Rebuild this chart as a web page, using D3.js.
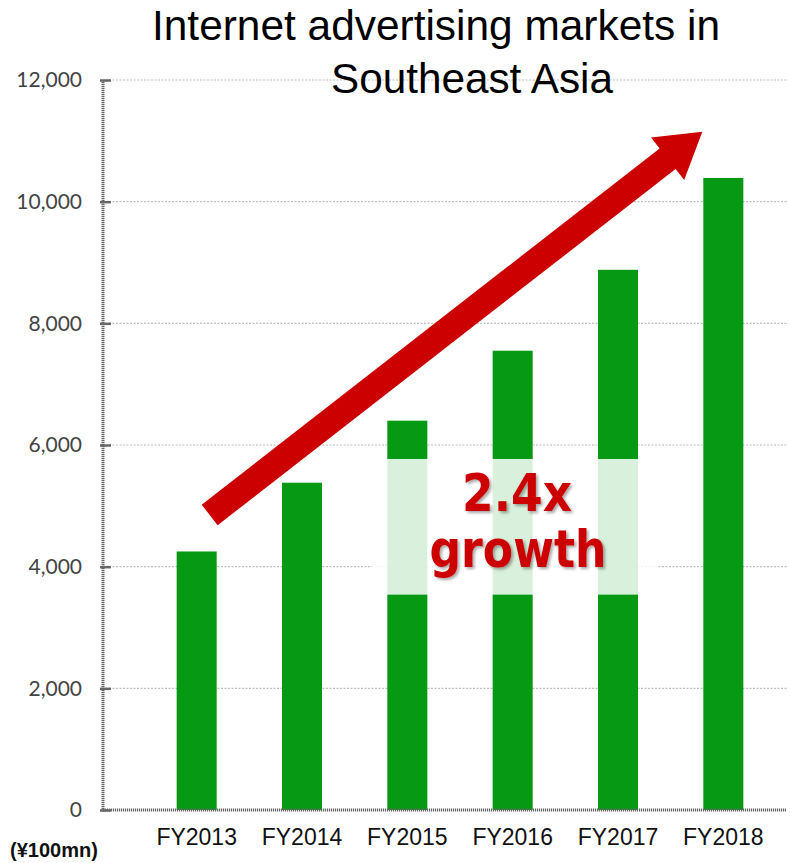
<!DOCTYPE html>
<html>
<head>
<meta charset="utf-8">
<script src="https://cdn.jsdelivr.net/npm/d3@7/dist/d3.min.js"></script>
<style>
  html, body { margin: 0; padding: 0; background: #fff; }
  svg { display: block; }
</style>
</head>
<body>
<svg id="chart" width="790" height="863"></svg>
<script>
// Internet advertising market size by fiscal year (unit: ¥100mn)
const categories = ["FY2013", "FY2014", "FY2015", "FY2016", "FY2017", "FY2018"];
const values = [4250, 5380, 6400, 7550, 8880, 10390];
const yTicks = [0, 2000, 4000, 6000, 8000, 10000, 12000];
const titleLines = ["Internet advertising markets in", "Southeast Asia"];
const unitLabel = "(¥100mn)";
const growthLines = ["2.4x", "growth"];

const svg = d3.select("#chart");

const x = d3.scaleBand().domain(categories).range([144, 776]).paddingInner(0.62).paddingOuter(0.31);
const y = d3.scaleLinear().domain([0, 12000]).range([810, 80]);
const axisLeft = 103, axisRight = 788;

const defs = svg.append("defs");
const shadow = defs.append("filter").attr("id", "txtShadow").attr("x", "-10%").attr("y", "-10%").attr("width", "130%").attr("height", "130%");
shadow.append("feDropShadow").attr("dx", 2).attr("dy", 2).attr("stdDeviation", 1.5)
  .attr("flood-color", "#000").attr("flood-opacity", 0.35);

// gridlines
svg.append("g").selectAll("line").data(yTicks.filter(d => d > 0)).join("line")
  .attr("x1", axisLeft + 6).attr("x2", axisRight)
  .attr("y1", d => y(d)).attr("y2", d => y(d))
  .attr("stroke", "#bdbdbd").attr("stroke-width", 1.2).attr("stroke-dasharray", "2,1.5");

// bars
svg.append("g").selectAll("rect").data(categories).join("rect")
  .attr("x", d => x(d)).attr("width", x.bandwidth())
  .attr("y", (d, i) => y(values[i])).attr("height", (d, i) => y(0) - y(values[i]))
  .attr("fill", "#069a14");

// y axis
const yAxis = d3.axisLeft(y).tickValues(yTicks).tickFormat(d3.format(",")).tickSize(0).tickPadding(21);
const gy = svg.append("g").attr("transform", `translate(${axisLeft},0)`).call(yAxis);
gy.select(".domain").remove();
gy.selectAll(".tick text").attr("fill", "#444").attr("font-family", "Lato, 'Noto Sans', sans-serif")
  .attr("font-size", 21);
gy.selectAll(".tick").append("line").attr("x1", -3).attr("x2", 8).attr("y1", 0).attr("y2", 0)
  .attr("stroke", "#666").attr("stroke-width", 2.5);
svg.append("line").attr("x1", axisLeft).attr("x2", axisLeft).attr("y1", y(12000)).attr("y2", y(0))
  .attr("stroke", "#666").attr("stroke-width", 3).attr("stroke-dasharray", "1.2,0.8");

// x axis
svg.append("line").attr("x1", axisLeft).attr("x2", axisRight - 2).attr("y1", y(0)).attr("y2", y(0))
  .attr("stroke", "#666").attr("stroke-width", 3).attr("stroke-dasharray", "1.2,0.8");
const xAxis = d3.axisBottom(x).tickSize(0).tickPadding(19);
const gx = svg.append("g").attr("transform", `translate(0,${y(0)})`).call(xAxis);
gx.select(".domain").remove();
gx.selectAll(".tick text").attr("fill", "#111").attr("font-family", "'Liberation Sans', Arial, sans-serif")
  .attr("font-size", 23);

// unit label
svg.append("text").attr("x", 10).attr("y", 857).text(unitLabel)
  .attr("font-family", "'Liberation Sans', Arial, sans-serif").attr("font-weight", "bold")
  .attr("font-size", 20).attr("fill", "#111");

// growth arrow, anchored in data space
const tail = [x("FY2013") + x.bandwidth() / 2 + 13, y(4850)];
const tip = [x("FY2018") + x.bandwidth() / 2 - 21, y(11150)];
const dx = tip[0] - tail[0], dy = tip[1] - tail[1];
const len = Math.hypot(dx, dy);
const ux = dx / len, uy = dy / len, px = -uy, py = ux;
const shaftHalf = 13, headHalf = 27, headLen = 44;
const base = [tip[0] - ux * headLen, tip[1] - uy * headLen];
const pt = (p, k) => [p[0] + px * k, p[1] + py * k];
const arrowPts = [pt(tail, shaftHalf), pt(base, shaftHalf), pt(base, headHalf), tip,
  pt(base, -headHalf), pt(base, -shaftHalf), pt(tail, -shaftHalf)];
svg.append("path").attr("d", d3.line()(arrowPts) + "Z").attr("fill", "#cc0000");

// translucent panel behind the growth label
svg.append("rect").attr("x", 372).attr("width", 286)
  .attr("y", y(5770)).attr("height", y(3540) - y(5770))
  .attr("fill", "#fff").attr("fill-opacity", 0.85);

// growth label
const gl = svg.append("g").attr("filter", "url(#txtShadow)");
gl.append("text").attr("x", 517).attr("y", 511).attr("text-anchor", "middle").text(growthLines[0])
  .attr("font-family", "'DejaVu Sans', Verdana, sans-serif").attr("font-weight", "bold").attr("font-size", 52)
  .attr("fill", "#cc0000").attr("textLength", 110).attr("lengthAdjust", "spacingAndGlyphs");
gl.append("text").attr("x", 518).attr("y", 567).attr("text-anchor", "middle").text(growthLines[1])
  .attr("font-family", "'DejaVu Sans', Verdana, sans-serif").attr("font-weight", "bold").attr("font-size", 52)
  .attr("fill", "#cc0000").attr("textLength", 177).attr("lengthAdjust", "spacingAndGlyphs");

// title
const titleX = [436, 472], titleY = [40, 93];
svg.append("g").selectAll("text").data(titleLines).join("text")
  .attr("x", (d, i) => titleX[i]).attr("y", (d, i) => titleY[i]).attr("text-anchor", "middle")
  .attr("font-family", "'Liberation Sans', Arial, sans-serif").attr("font-size", 42).attr("fill", "#000")
  .attr("textLength", (d, i) => [568, 282][i]).attr("lengthAdjust", "spacingAndGlyphs")
  .text(d => d);
</script>
</body>
</html>
